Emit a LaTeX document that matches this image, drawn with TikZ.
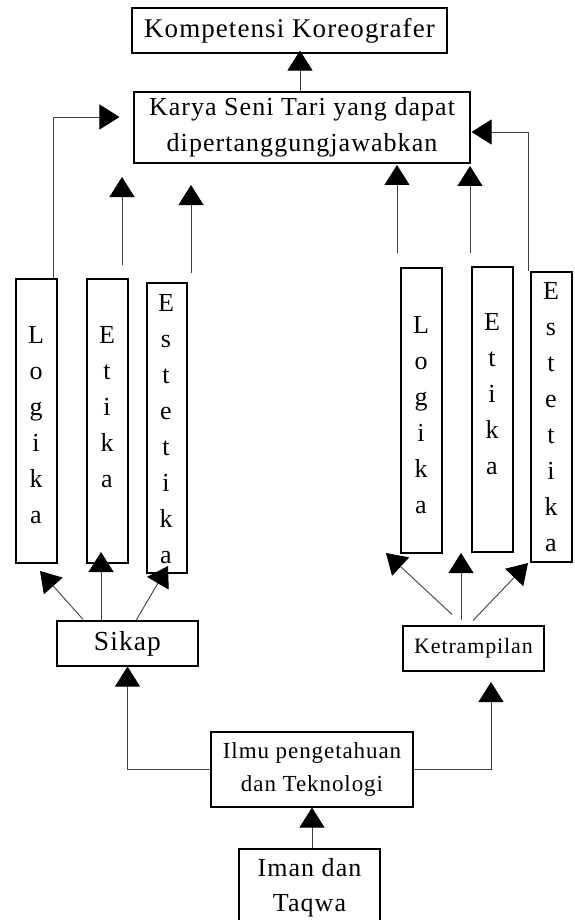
\documentclass[tikz,border=0pt]{standalone}
\usepackage{fontspec}
\setmainfont{Liberation Serif}
\newfontfamily\spacedrm{Liberation Serif}[LetterSpace=4]
\usetikzlibrary{arrows.meta,calc}
\tikzset{
  box/.style={draw=black, line width=1.1pt, fill=white, inner sep=0pt, align=center},
  letters/.style={inner sep=0pt, align=center, font=\fontsize{26}{36}\selectfont},
  link/.style={draw=black!75, line width=0.9pt},
  arr/.style={link, -{Triangle[length=20pt,width=25pt,color=black]}},
}
\begin{document}
\begin{tikzpicture}[x=1pt,y=-1pt]
\useasboundingbox (0,0) rectangle (574,920);
\clip (0,0) rectangle (574,920);

% main boxes
\node[box, minimum width=315pt, minimum height=45pt, font=\spacedrm\fontsize{27}{36}\selectfont]
  (komp) at (289.5,30.5) {Kompetensi Koreografer};
\node[box, minimum width=336pt, minimum height=71pt, font=\spacedrm\fontsize{26}{36}\selectfont]
  (karya) at (302,127.5) {Karya Seni Tari yang dapat\\dipertanggungjawabkan};
\node[box, minimum width=141pt, minimum height=45pt, font=\spacedrm\fontsize{27.5}{33}\selectfont]
  (sikap) at (127.5,643.5) {Sikap};
\node[box, minimum width=141pt, minimum height=45pt, font=\spacedrm\fontsize{22}{30}\selectfont]
  (ketr) at (473.5,648.5) {Ketrampilan};
\node[box, minimum width=202pt, minimum height=75pt, font=\spacedrm\fontsize{23}{33}\selectfont]
  (ilmu) at (312,769.5) {Ilmu pengetahuan\\dan Teknologi};
\node[box, minimum width=141pt, minimum height=78pt, font=\spacedrm\fontsize{26}{35}\selectfont]
  (iman) at (309.5,888) {Iman dan\\Taqwa};

% narrow upright boxes
\node[box, minimum width=41pt, minimum height=284pt] (logL) at (36.5,421) {};
\node[box, minimum width=41pt, minimum height=284pt] (etiL) at (107.5,421) {};
\node[box, minimum width=40pt, minimum height=290pt] (estL) at (167,428) {};
\node[box, minimum width=41pt, minimum height=285pt] (logR) at (421.5,410.5) {};
\node[box, minimum width=41pt, minimum height=285pt] (etiR) at (492.5,409.5) {};
\node[box, minimum width=41pt, minimum height=290pt] (estR) at (551.5,417) {};

% stacked letters
\node[letters] (logLt) at (36,425.5) {L\\o\\g\\i\\k\\a};
\node[letters] (etiLt) at (107,407.5) {E\\t\\i\\k\\a};
\node[letters] (estLt) at (166,429) {E\\s\\t\\e\\t\\i\\k\\a};
\node[letters] (logRt) at (421,415) {L\\o\\g\\i\\k\\a};
\node[letters] (etiRt) at (492,394.5) {E\\t\\i\\k\\a};
\node[letters] (estRt) at (551,417.5) {E\\s\\t\\e\\t\\i\\k\\a};

% free ends of the connectors
\coordinate (upA1) at (122,265); \coordinate (upB1) at (122,177);
\coordinate (upA2) at (191,273); \coordinate (upB2) at (191,185);
\coordinate (upA3) at (397,253); \coordinate (upB3) at (397,165);
\coordinate (upA4) at (470,253); \coordinate (upB4) at (470,166);
\coordinate (sikL) at (40,571);  \coordinate (sikM) at (101,552); \coordinate (sikR) at (168,566);
\coordinate (ktrL) at (386,553); \coordinate (ktrM) at (461,553); \coordinate (ktrR) at (528,563);
\coordinate (ktIn) at (491,682);

% connectors
\draw[arr] ($(karya.north)+(-2,0)$) -- ($(komp.south)+(10.5,-3)$);
\draw[arr] ($(logL.north)+(16.5,0)$) |- ($(karya.west)+(-14,-10.5)$);
\draw[arr] ($(estR.north west)+(-2,0)$) |- ($(karya.east)+(1,4.5)$);
\draw[arr] (upA1) -- (upB1);
\draw[arr] (upA2) -- (upB2);
\draw[arr] (upA3) -- (upB3);
\draw[arr] (upA4) -- (upB4);

\draw[arr] ($(sikap.north)+(-44.5,-1)$) -- (sikL);
\draw[arr] ($(sikap.north)+(-26.5,0)$) -- (sikM);
\draw[arr] ($(sikap.north)+(8.5,0)$) -- (sikR);

\draw[arr] ($(ketr.north)+(-21.5,-11)$) -- (ktrL);
\draw[arr] ($(ketr.north)+(-12.5,-5)$) -- (ktrM);
\draw[arr] ($(ketr.north)+(-0.5,-5)$) -- (ktrR);

\draw[arr] (ilmu.west) -| (sikap.south);
\draw[arr] (ilmu.east) -| (ktIn);
\draw[arr] (ilmu.south |- iman.north) -- (ilmu.south);
\end{tikzpicture}
\end{document}
